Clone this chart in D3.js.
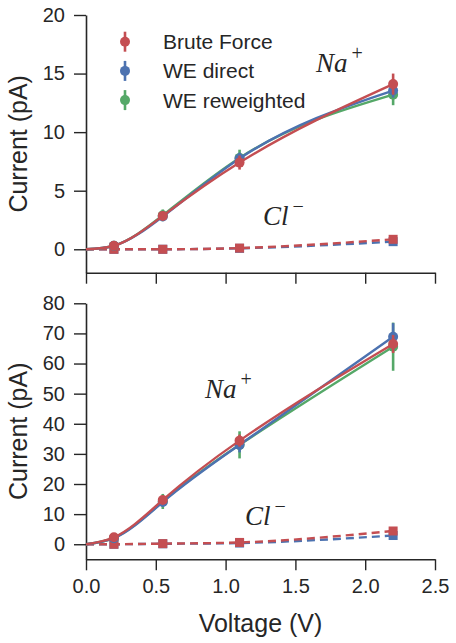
<!DOCTYPE html>
<html><head><meta charset="utf-8">
<script src="https://cdn.jsdelivr.net/npm/d3@7"></script>
<style>
body{margin:0;background:#fff;}
svg{display:block;font-family:"Liberation Sans",Arial,sans-serif;}
</style></head>
<body><svg id="c" width="456" height="643"></svg>
<script>
// ---- data ----
const voltages = [0.2, 0.55, 1.1, 2.2];
const seriesNames = ["Brute Force", "WE direct", "WE reweighted"];
const seriesColors = ["#C44E52", "#4C72B0", "#55A868"];
// top panel (Na+)
const topNaBF = [0.3, 2.85, 7.4, 14.1];
const topNaBFErr = [0.3, 0.3, 0.6, 0.9];
const topNaWE = [0.3, 2.8, 7.75, 13.55];
const topNaWEErr = [0.2, 0.3, 0.5, 0.6];
const topNaRW = [0.3, 2.9, 7.8, 13.2];
const topNaRWErr = [0.2, 0.5, 0.7, 0.9];
// top panel (Cl-)
const topClBF = [0.0, 0.0, 0.1, 0.85];
const topClWE = [0.0, 0.0, 0.08, 0.65];
// bottom panel (Na+)
const botNaBF = [2.3, 14.7, 34.4, 66.5];
const botNaBFErr = [0.8, 1.2, 2.0, 3.0];
const botNaWE = [2.0, 14.0, 33.0, 68.9];
const botNaWEErr = [0.8, 1.5, 2.5, 4.5];
const botNaRW = [2.1, 14.2, 33.0, 65.6];
const botNaRWErr = [0.8, 2.5, 4.5, 8.0];
// bottom panel (Cl-)
const botClBF = [0.0, 0.2, 0.6, 4.4];
const botClWE = [0.0, 0.15, 0.4, 2.9];
const topYTicks = [0, 5, 10, 15, 20];
const botYTicks = [0, 10, 20, 30, 40, 50, 60, 70, 80];
const xTicks = [0.0, 0.5, 1.0, 1.5, 2.0, 2.5];

// custom d3 curve: natural cubic spline y(x) (x increasing), drawn as Bezier segments
function curveSplineX(context) {
  let pts = [];
  return {
    areaStart() {}, areaEnd() {},
    lineStart() { pts = []; },
    point(px, py) { pts.push([+px, +py]); },
    lineEnd() {
      const n = pts.length - 1;
      if (n < 1) return;
      const X = pts.map(p => p[0]), Y = pts.map(p => p[1]);
      const h = d3.range(n).map(i => X[i + 1] - X[i]);
      const M = new Array(n + 1).fill(0);
      if (n > 1) {
        const a = [], b = [], c = [], d = [];
        for (let i = 1; i < n; i++) {
          a.push(h[i - 1]); b.push(2 * (h[i - 1] + h[i])); c.push(h[i]);
          d.push(6 * ((Y[i + 1] - Y[i]) / h[i] - (Y[i] - Y[i - 1]) / h[i - 1]));
        }
        const m = b.length;
        for (let i = 1; i < m; i++) {
          const w = a[i] / b[i - 1];
          b[i] -= w * c[i - 1]; d[i] -= w * d[i - 1];
        }
        const sol = new Array(m);
        sol[m - 1] = d[m - 1] / b[m - 1];
        for (let i = m - 2; i >= 0; i--) sol[i] = (d[i] - c[i] * sol[i + 1]) / b[i];
        for (let i = 1; i < n; i++) M[i] = sol[i - 1];
      }
      const slope = [];
      for (let i = 0; i < n; i++) slope.push((Y[i + 1] - Y[i]) / h[i] - h[i] * (2 * M[i] + M[i + 1]) / 6);
      slope.push((Y[n] - Y[n - 1]) / h[n - 1] + h[n - 1] * (M[n - 1] + 2 * M[n]) / 6);
      context.moveTo(X[0], Y[0]);
      for (let i = 0; i < n; i++) {
        const t = h[i] / 3;
        context.bezierCurveTo(X[i] + t, Y[i] + slope[i] * t, X[i + 1] - t, Y[i + 1] - slope[i + 1] * t, X[i + 1], Y[i + 1]);
      }
    }
  };
}

const svg = d3.select("#c");
const axisColor = "#262626";
const x = d3.scaleLinear().domain([0, 2.5]).range([86, 435]);

function panel(cfg) {
  const y = d3.scaleLinear().domain(cfg.ydom).range(cfg.yrange);
  const g = svg.append("g");
  const ya = g.append("g").attr("transform", "translate(86,0)")
    .call(d3.axisLeft(y).tickValues(cfg.yticks).tickSize(12).tickSizeOuter(0).tickPadding(9).tickFormat(d3.format("d")));
  const xa = g.append("g").attr("transform", `translate(0,${cfg.yrange[0]})`)
    .call(d3.axisBottom(x).tickValues(xTicks).tickSize(11).tickSizeOuter(0).tickPadding(9)
      .tickFormat(cfg.xlabels ? d3.format(".1f") : () => ""));
  [ya, xa].forEach(a => {
    a.select(".domain").attr("stroke", axisColor).attr("stroke-width", 1.6);
    a.selectAll(".tick line").attr("stroke", axisColor).attr("stroke-width", 1.4);
    a.selectAll(".tick text").attr("fill", axisColor).style("font-size", "20px")
      .style("font-family", "'Liberation Sans',Arial,sans-serif");
  });
  g.append("text").attr("transform", `translate(27,${(cfg.yrange[0] + cfg.yrange[1]) / 2}) rotate(-90)`)
    .attr("text-anchor", "middle").attr("fill", axisColor).style("font-size", "25px").text("Current (pA)");

  const line = d3.line().x(d => x(d[0])).y(d => y(d[1])).curve(curveSplineX);
  cfg.cl.forEach(s => {
    const pts = [[0, 0]].concat(voltages.map((v, i) => [v, s.vals[i]]));
    g.append("path").attr("d", line(pts)).attr("fill", "none").attr("stroke", s.color)
      .attr("stroke-width", 2.4).attr("stroke-dasharray", "8,5");
    g.selectAll(null).data(voltages).enter().append("rect")
      .attr("x", (v) => x(v) - 4.5).attr("y", (v, i) => y(s.vals[i]) - 4.5)
      .attr("width", 9).attr("height", 9).attr("fill", s.color);
  });
  cfg.na.forEach(s => {
    const pts = [[0, 0]].concat(voltages.map((v, i) => [v, s.vals[i]]));
    g.append("path").attr("d", line(pts)).attr("fill", "none").attr("stroke", s.color).attr("stroke-width", 2.4);
    voltages.forEach((v, i) => {
      g.append("line").attr("x1", x(v)).attr("x2", x(v))
        .attr("y1", y(s.vals[i] - s.err[i])).attr("y2", y(s.vals[i] + s.err[i]))
        .attr("stroke", s.color).attr("stroke-width", 2.6);
      g.append("circle").attr("cx", x(v)).attr("cy", y(s.vals[i])).attr("r", 5).attr("fill", s.color);
    });
  });
  function ion(xp, yp, base, sup) {
    const t = g.append("text").attr("x", xp).attr("y", yp).attr("fill", axisColor)
      .style("font-family", "'Liberation Serif','DejaVu Serif',serif").style("font-size", "27px");
    t.append("tspan").style("font-style", "italic").text(base);
    t.append("tspan").attr("dy", -12).attr("dx", 4).style("font-size", "20px").text(sup);
  }
  ion(cfg.naLab[0], cfg.naLab[1], "Na", "+");
  ion(cfg.clLab[0], cfg.clLab[1], "Cl", "\u2212");
  return g;
}

panel({
  ydom: [-2, 20], yrange: [272.7, 15], yticks: topYTicks, xlabels: false,
  na: [
    { color: seriesColors[2], vals: topNaRW, err: topNaRWErr },
    { color: seriesColors[1], vals: topNaWE, err: topNaWEErr },
    { color: seriesColors[0], vals: topNaBF, err: topNaBFErr }
  ],
  cl: [
    { color: seriesColors[1], vals: topClWE },
    { color: seriesColors[0], vals: topClBF }
  ],
  naLab: [316, 72], clLab: [263, 225]
});

panel({
  ydom: [-5, 80], yrange: [559.3, 303.3], yticks: botYTicks, xlabels: true,
  na: [
    { color: seriesColors[2], vals: botNaRW, err: botNaRWErr },
    { color: seriesColors[1], vals: botNaWE, err: botNaWEErr },
    { color: seriesColors[0], vals: botNaBF, err: botNaBFErr }
  ],
  cl: [
    { color: seriesColors[1], vals: botClWE },
    { color: seriesColors[0], vals: botClBF }
  ],
  naLab: [205, 398], clLab: [245, 525]
});

svg.append("text").attr("x", (86 + 435) / 2).attr("y", 632).attr("text-anchor", "middle")
  .attr("fill", axisColor).style("font-size", "25px").text("Voltage (V)");

const leg = svg.append("g");
seriesNames.forEach((n, i) => {
  const yy = 41.7 + i * 29.2;
  leg.append("line").attr("x1", 125).attr("x2", 125).attr("y1", yy - 10).attr("y2", yy + 10)
    .attr("stroke", seriesColors[i]).attr("stroke-width", 2.6);
  leg.append("circle").attr("cx", 125).attr("cy", yy).attr("r", 5).attr("fill", seriesColors[i]);
  leg.append("text").attr("x", 163).attr("y", yy + 7.5).attr("fill", axisColor)
    .style("font-size", "21px").text(n);
});
</script></body></html>
